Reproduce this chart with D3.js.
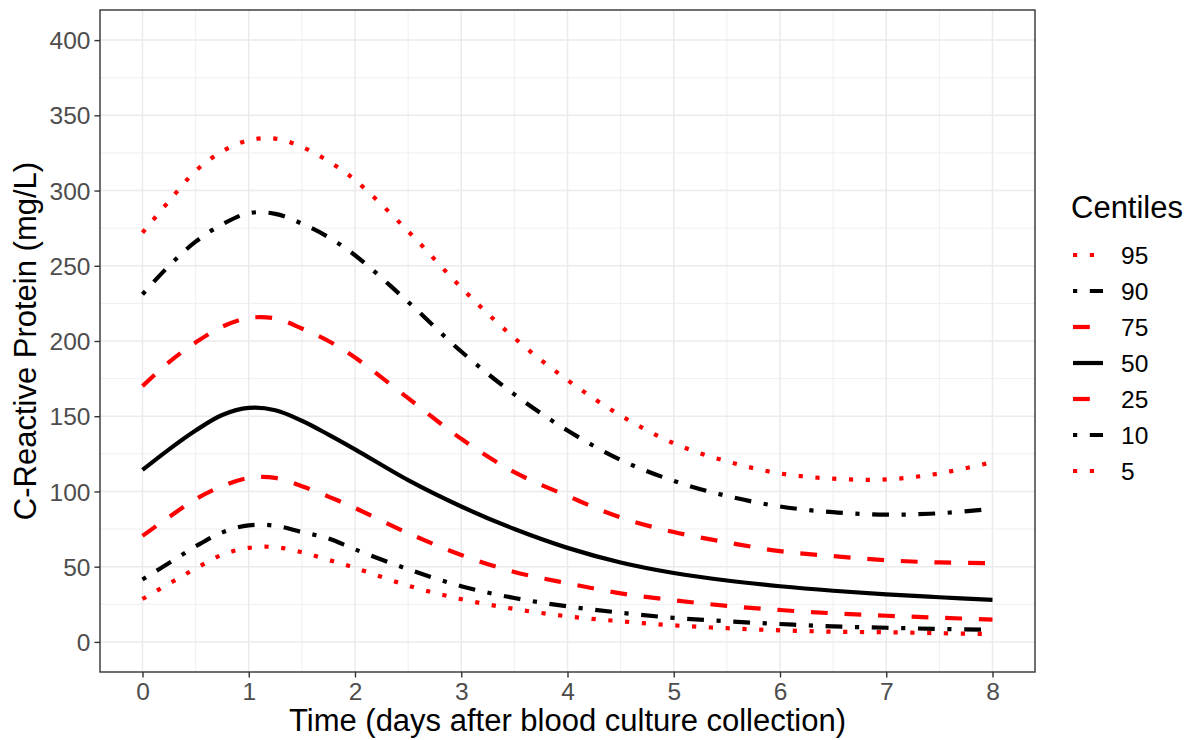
<!DOCTYPE html>
<html>
<head>
<meta charset="utf-8">
<script src="https://cdn.jsdelivr.net/npm/d3@7"></script>
<style>
  html, body { margin: 0; padding: 0; background: #fff; }
  svg { display: block; font-family: "Liberation Sans", Arial, sans-serif; }
</style>
</head>
<body>
<svg id="chart" width="1192" height="740"></svg>
<script>
// ---- data ----
const times = [0,0.25,0.5,0.75,1,1.25,1.5,1.75,2,2.5,3,3.5,4,4.5,5,5.5,6,6.5,7,7.5,8];
const p95 = [272,293,313,326,333.5,334.5,329,319.5,307,273,235.5,202,174,150.5,132,120,112,108.5,108,112,119.5];
const p90 = [231,250,266,277.5,285,284.5,278,269,257,226,193,164.5,140.5,121,107,97,90,86.2,84.6,85.5,88.5];
const p75 = [170,186,199,209.5,215.3,215,208.3,200,189,162,135,112.8,97,82.7,73,66.2,60.3,57,54.3,52.8,52.4];
const p50 = [114.3,128,140.5,150.8,155.5,154,147,137.8,128,107.5,90,75,62.5,52.8,45.8,40.8,37,34,31.6,29.7,28];
const p25 = [70.5,83,94.8,103.5,109,109,103.5,96.6,89,72.3,57.8,46.5,39,32.3,27.7,24,21.2,19,17.4,16.1,14.8];
const p10 = [41.5,52.5,63.5,72.8,77.5,77.2,73,68.8,61.5,48.3,37,29.2,23.6,19.4,16,13.7,11.9,10.3,9.4,8.6,8];
const p5  = [28.5,38.7,48.8,57.9,62.5,63,59.6,54.5,49.2,37.4,28.4,21.9,17,13.7,11,9.1,7.7,6.8,6.4,5.8,5.2];

const centiles = ["95","90","75","50","25","10","5"];
const seriesValues = [p95, p90, p75, p50, p25, p10, p5];
const xTicks = [0,1,2,3,4,5,6,7,8];
const yTicks = [0,50,100,150,200,250,300,350,400];
const xTitle = "Time (days after blood culture collection)";
const yTitle = "C-Reactive Protein (mg/L)";
const legendTitle = "Centiles";

// ---- styles ----
const LW = 4.2;
const styleMap = {
  "95": {color: "#FF0000", dash: [LW, 3*LW]},
  "90": {color: "#000000", dash: [LW, 3*LW, 4*LW, 3*LW]},
  "75": {color: "#FF0000", dash: [4*LW, 4*LW]},
  "50": {color: "#000000", dash: null},
  "25": {color: "#FF0000", dash: [4*LW, 4*LW]},
  "10": {color: "#000000", dash: [LW, 3*LW, 4*LW, 3*LW]},
  "5":  {color: "#FF0000", dash: [LW, 3*LW]}
};

const svg = d3.select("#chart");
const panel = {left: 100, right: 1035, top: 10, bottom: 672};

const x = d3.scaleLinear().domain([-0.4, 8.4]).range([panel.left, panel.right]);
const y = d3.scaleLinear().domain([-20, 420]).range([panel.bottom, panel.top]);

// panel background
svg.append("rect").attr("x", panel.left).attr("y", panel.top)
  .attr("width", panel.right - panel.left).attr("height", panel.bottom - panel.top)
  .attr("fill", "#fff");

const grid = svg.append("g");
const gridColor = "#EBEBEB";
// minor grid
const xMinor = xTicks.slice(0, -1).map(d => d + 0.5);
const yMinor = yTicks.slice(0, -1).map(d => d + 25);
grid.selectAll("line.xminor").data(xMinor).enter().append("line")
  .attr("x1", d => x(d)).attr("x2", d => x(d))
  .attr("y1", panel.top).attr("y2", panel.bottom)
  .attr("stroke", gridColor).attr("stroke-width", 0.8);
grid.selectAll("line.yminor").data(yMinor).enter().append("line")
  .attr("y1", d => y(d)).attr("y2", d => y(d))
  .attr("x1", panel.left).attr("x2", panel.right)
  .attr("stroke", gridColor).attr("stroke-width", 0.8);
// major grid
grid.selectAll("line.xmajor").data(xTicks).enter().append("line")
  .attr("x1", d => x(d)).attr("x2", d => x(d))
  .attr("y1", panel.top).attr("y2", panel.bottom)
  .attr("stroke", gridColor).attr("stroke-width", 1.5);
grid.selectAll("line.ymajor").data(yTicks).enter().append("line")
  .attr("y1", d => y(d)).attr("y2", d => y(d))
  .attr("x1", panel.left).attr("x2", panel.right)
  .attr("stroke", gridColor).attr("stroke-width", 1.5);

// lines
const line = d3.line()
  .x(d => x(d[0])).y(d => y(d[1]))
  .curve(d3.curveCatmullRom.alpha(0.5));

const linesG = svg.append("g");
centiles.forEach((c, i) => {
  const pts = times.map((t, j) => [t, seriesValues[i][j]]);
  const st = styleMap[c];
  linesG.append("path")
    .attr("d", line(pts))
    .attr("fill", "none")
    .attr("stroke", st.color)
    .attr("stroke-width", LW)
    .attr("stroke-linecap", "butt")
    .attr("stroke-dasharray", st.dash ? st.dash.join(",") : null);
});

// panel border
svg.append("rect").attr("x", panel.left).attr("y", panel.top)
  .attr("width", panel.right - panel.left).attr("height", panel.bottom - panel.top)
  .attr("fill", "none").attr("stroke", "#333333").attr("stroke-width", 1.4);

// axes
const xAxis = d3.axisBottom(x).tickValues(xTicks).tickSize(5.5).tickPadding(5).tickFormat(d3.format("d"));
const yAxis = d3.axisLeft(y).tickValues(yTicks).tickSize(5.5).tickPadding(4).tickFormat(d3.format("d"));

const gx = svg.append("g").attr("transform", `translate(0,${panel.bottom})`).call(xAxis);
const gy = svg.append("g").attr("transform", `translate(${panel.left},0)`).call(yAxis);
[gx, gy].forEach(g => {
  g.select(".domain").remove();
  g.selectAll(".tick line").attr("stroke", "#333333").attr("stroke-width", 1.4);
  g.selectAll(".tick text").attr("fill", "#4D4D4D")
    .style("font-size", "24.5px").style("font-family", '"Liberation Sans", Arial, sans-serif');
});
gx.selectAll(".tick text").attr("dy", null).attr("y", 28);
gy.selectAll(".tick text").attr("dy", "0.35em");

// axis titles
svg.append("text")
  .attr("x", (panel.left + panel.right) / 2).attr("y", 731)
  .attr("text-anchor", "middle").attr("fill", "#000")
  .style("font-size", "31px").text(xTitle);
svg.append("text")
  .attr("transform", `translate(36,${(panel.top + panel.bottom) / 2}) rotate(-90)`)
  .attr("text-anchor", "middle").attr("fill", "#000")
  .style("font-size", "31px").text(yTitle);

// legend
const lg = svg.append("g");
lg.append("text").attr("x", 1071).attr("y", 218)
  .attr("fill", "#000").style("font-size", "31px").text(legendTitle);
const keyY0 = 255, keyStep = 36;
centiles.forEach((c, i) => {
  const yy = keyY0 + i * keyStep;
  const st = styleMap[c];
  lg.append("line")
    .attr("x1", 1073).attr("x2", 1103).attr("y1", yy).attr("y2", yy)
    .attr("stroke", st.color).attr("stroke-width", LW)
    .attr("stroke-linecap", "butt")
    .attr("stroke-dasharray", st.dash ? st.dash.join(",") : null);
  lg.append("text").attr("x", 1121).attr("y", yy).attr("dy", "0.35em")
    .attr("fill", "#000").style("font-size", "24.5px").text(c);
});
</script>
</body>
</html>
